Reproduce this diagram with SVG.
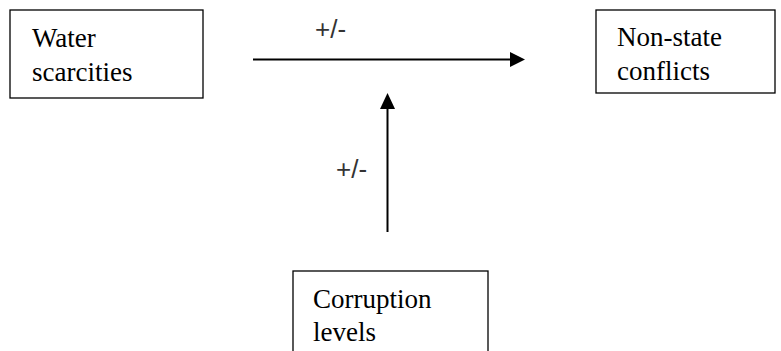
<svg xmlns="http://www.w3.org/2000/svg" width="781" height="351" viewBox="0 0 781 351">
<style>
.box{fill:#fff;stroke:#000;stroke-width:1.3}
.t{font-family:"Liberation Serif","Times New Roman",serif;font-size:27px;fill:#000}
.lbl{font-family:"Liberation Sans",Arial,sans-serif;font-size:26px;fill:#333}
.conn{stroke:#000;stroke-width:2;fill:none}
</style>
<rect width="781" height="351" fill="#fff"/>
<g id="connectors">
<line class="conn" x1="253" y1="59.5" x2="511" y2="59.5"/>
<polygon points="510,52 525,59.5 510,67" fill="#000"/>
<line class="conn" x1="387.5" y1="232" x2="387.5" y2="108"/>
<polygon points="380,109 387.5,93 395,109" fill="#000"/>
<text class="lbl" x="315" y="38">+/-</text>
<text class="lbl" x="336" y="178">+/-</text>
</g>
<g id="water">
<rect class="box" x="10" y="10" width="193" height="88"/>
<text class="t" x="32" y="47">Water</text>
<text class="t" x="32" y="81">scarcities</text>
</g>
<g id="nonstate">
<rect class="box" x="596" y="10" width="179" height="83"/>
<text class="t" x="617" y="46">Non-state</text>
<text class="t" x="617" y="80">conflicts</text>
</g>
<g id="corruption">
<rect class="box" x="293" y="271" width="195" height="90"/>
<text class="t" x="313" y="308">Corruption</text>
<text class="t" x="313" y="341">levels</text>
</g>
</svg>
